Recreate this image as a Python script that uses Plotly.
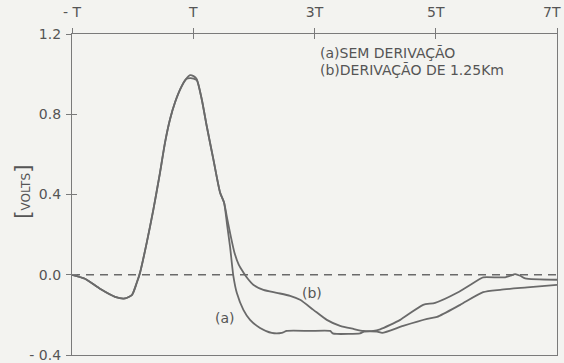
import plotly.graph_objects as go

# time in units of T, voltage in volts
t_common = [-1.000, -0.785, -0.538, -0.290, -0.125, -0.010, 0.068, 0.122, 0.233, 0.342,
            0.441, 0.535, 0.617, 0.700, 0.810, 0.881]
v_common = [0.0, -0.02, -0.07, -0.11, -0.118, -0.10, -0.04, 0.01, 0.16, 0.325,
            0.49, 0.66, 0.775, 0.86, 0.94, 0.975]

t_a_tail = [0.947, 1.005, 1.058, 1.140, 1.223, 1.332, 1.442, 1.508, 1.558, 1.607, 1.662,
            1.718, 1.827, 1.937, 2.102, 2.295, 2.460, 2.543, 2.927, 3.257, 3.300, 3.368,
            3.752, 3.818, 4.033, 4.116, 4.462, 4.858, 5.023, 5.403, 5.782, 6.063,
            6.508, 7.000]
v_a_tail = [0.995, 0.99, 0.975, 0.875, 0.74, 0.575, 0.41, 0.36, 0.25, 0.14, -0.007,
            -0.09, -0.175, -0.225, -0.265, -0.29, -0.29, -0.28, -0.28, -0.28, -0.292, -0.295,
            -0.292, -0.283, -0.283, -0.29, -0.255, -0.22, -0.21, -0.15, -0.087, -0.075,
            -0.063, -0.05]

t_b_tail = [0.947, 1.005, 1.058, 1.140, 1.223, 1.332, 1.442, 1.508, 1.560, 1.620, 1.680,
            1.750, 1.830, 1.900, 1.990, 2.157, 2.378, 2.597, 2.762, 2.982, 3.203, 3.422, 3.642,
            3.807, 3.972, 4.083, 4.248, 4.413, 4.792, 4.990, 5.353, 5.733, 5.782, 6.145,
            6.228, 6.310, 6.393, 6.475, 7.000]
v_b_tail = [0.98, 0.978, 0.97, 0.875, 0.74, 0.575, 0.41, 0.36, 0.28, 0.19, 0.11,
            0.05, 0.01, -0.02, -0.05, -0.075, -0.09, -0.105, -0.125, -0.175, -0.225, -0.255, -0.27,
            -0.28, -0.28, -0.272, -0.25, -0.225, -0.15, -0.14, -0.09, -0.02, -0.013, -0.013,
            -0.005, 0.003, -0.005, -0.018, -0.025]

t_a = t_common + t_a_tail
v_a = v_common + v_a_tail
t_b = t_common + t_b_tail
v_b = v_common + v_b_tail

x_tickvals = [-1, 1, 3, 5, 7]
x_ticktext = ["- T", "T", "3T", "5T", "7T"]
y_tickvals = [-0.4, 0.0, 0.4, 0.8, 1.2]
y_ticktext = ["- 0.4", "0.0", "0.4", "0.8", "1.2"]

legend_lines = ["(a)SEM DERIVAÇÃO", "(b)DERIVAÇÃO DE 1.25Km"]

INK = "#6a6a6a"
TXT = "#555555"
FONT = "DejaVu Sans"

fig = go.Figure()
for tt, vv in [(t_a, v_a), (t_b, v_b)]:
    fig.add_trace(go.Scatter(x=tt, y=vv, mode="lines",
                             line=dict(color=INK, width=1.8, shape="spline", smoothing=0.6),
                             showlegend=False, hoverinfo="skip"))

axis_common = dict(showgrid=False, zeroline=False, showline=True, linecolor="#7a7a7a",
                   linewidth=1.2, tickcolor="#7a7a7a", tickwidth=1.2, automargin=False,
                   ticklabeloverflow="allow")

# last x tick label sits at the page edge: draw it as right-anchored text instead
x_ticktext_axis = x_ticktext[:-1] + [""]

fig.update_layout(
    width=564, height=363,
    margin=dict(l=72, r=7, t=34, b=8),
    paper_bgcolor="#f3f3f0", plot_bgcolor="#f3f3f0",
    font=dict(family=FONT, color=TXT, size=14),
    xaxis=dict(range=[-1, 7], side="top", tickvals=x_tickvals, ticktext=x_ticktext_axis,
               ticks="outside", ticklen=5, mirror=True, ticklabelstandoff=5, **axis_common),
    yaxis=dict(range=[-0.4, 1.2], tickvals=y_tickvals, ticktext=y_ticktext,
               ticks="outside", ticklen=5, mirror=True, ticklabelstandoff=2, **axis_common),
    xaxis2=dict(range=[-1, 7], overlaying="x", side="top", tickvals=x_tickvals,
                showticklabels=False, ticks="inside", ticklen=5, showline=False,
                showgrid=False, zeroline=False, tickcolor="#7a7a7a", tickwidth=1.2,
                automargin=False),
    yaxis2=dict(range=[-0.4, 1.2], overlaying="y", side="left", tickvals=y_tickvals,
                showticklabels=False, ticks="inside", ticklen=5, showline=False,
                showgrid=False, zeroline=False, tickcolor="#7a7a7a", tickwidth=1.2,
                automargin=False),
)
# dummy trace to activate the overlay axes
fig.add_trace(go.Scatter(x=[None], y=[None], xaxis="x2", yaxis="y2", showlegend=False))

fig.add_annotation(x=x_tickvals[-1], xref="x", y=1, yref="paper", text=x_ticktext[-1],
                   showarrow=False, xanchor="right", yanchor="middle", xshift=6, yshift=22,
                   font=dict(family=FONT, size=14, color=TXT))

fig.add_shape(type="line", xref="paper", x0=0, x1=1, yref="y", y0=0, y1=0,
              line=dict(color=INK, width=1.5, dash="8px,6px"), layer="below")

for i, txt in enumerate(legend_lines):
    fig.add_annotation(x=3.05, y=1.105 - i * 0.085, xref="x", yref="y", text=txt,
                       showarrow=False, xanchor="left", yanchor="middle",
                       font=dict(family=FONT, size=14, color=TXT))

fig.add_annotation(x=1.525, y=-0.216, text="(a)", showarrow=False,
                   font=dict(family=FONT, size=14, color=TXT))
fig.add_annotation(x=2.955, y=-0.09, text="(b)", showarrow=False,
                   font=dict(family=FONT, size=14, color=TXT))

fig.add_annotation(xref="paper", yref="paper", x=(22 - 72) / 485, y=(355 - 192) / 321,
                   text="<span style='font-size:22px'>[</span>VOLTS<span style='font-size:22px'>]</span>",
                   textangle=-90, showarrow=False, xanchor="center", yanchor="middle",
                   font=dict(family=FONT, size=12, color=TXT))

fig.write_html("out.html")
